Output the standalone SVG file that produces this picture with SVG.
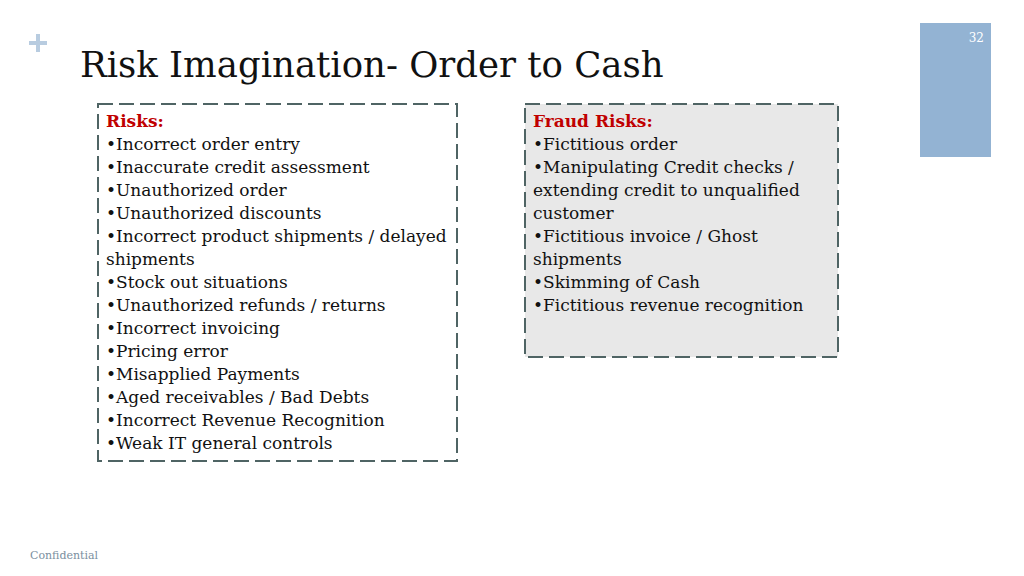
<svg xmlns="http://www.w3.org/2000/svg" width="1024" height="576" viewBox="0 0 1024 576">
<style>
text{font-family:"DejaVu Serif","Liberation Serif",serif;}
.b{font-size:17px;fill:#111}
.h{font-size:17px;font-weight:bold;fill:#c00000}
.box{stroke:#4f6464;stroke-width:2;stroke-dasharray:15 6}
</style>
<rect width="1024" height="576" fill="#fff"/>
<g id="plus"><rect x="29" y="41" width="18" height="4" fill="#b8cce0"/><rect x="36" y="34" width="4" height="18" fill="#b8cce0"/></g>
<g id="pagetab"><rect x="920" y="23" width="71" height="134" fill="#93b3d3"/><text x="984" y="42" font-size="12" fill="#fff" text-anchor="end">32</text></g>
<text id="title" x="80" y="77" font-size="35.5" fill="#111">Risk Imagination- Order to Cash</text>
<g id="risks">
<rect class="box" x="98" y="104" width="359" height="357" fill="none"/>
<text x="106" y="127" class="h">Risks:</text>
<text class="b" x="106" y="150">•Incorrect order entry</text>
<text class="b" x="106" y="173">•Inaccurate credit assessment</text>
<text class="b" x="106" y="196">•Unauthorized order</text>
<text class="b" x="106" y="219">•Unauthorized discounts</text>
<text class="b" x="106" y="242">•Incorrect product  shipments / delayed</text>
<text class="b" x="106" y="265">shipments</text>
<text class="b" x="106" y="288">•Stock out situations</text>
<text class="b" x="106" y="311">•Unauthorized refunds / returns</text>
<text class="b" x="106" y="334">•Incorrect invoicing</text>
<text class="b" x="106" y="357">•Pricing error</text>
<text class="b" x="106" y="380">•Misapplied Payments</text>
<text class="b" x="106" y="403">•Aged receivables / Bad Debts</text>
<text class="b" x="106" y="426">•Incorrect Revenue Recognition</text>
<text class="b" x="106" y="449">•Weak IT general controls</text>
</g>
<g id="fraud">
<rect class="box" x="525" y="104" width="313" height="253" fill="#e8e8e8"/>
<text x="533" y="127" class="h">Fraud Risks:</text>
<text class="b" x="533" y="150">•Fictitious order</text>
<text class="b" x="533" y="173">•Manipulating Credit checks /</text>
<text class="b" x="533" y="196">extending credit to unqualified</text>
<text class="b" x="533" y="219">customer</text>
<text class="b" x="533" y="242">•Fictitious invoice / Ghost</text>
<text class="b" x="533" y="265">shipments</text>
<text class="b" x="533" y="288">•Skimming of Cash</text>
<text class="b" x="533" y="311">•Fictitious revenue recognition</text>
</g>
<text x="30" y="559" font-size="11" fill="#7a8fa0">Confidential</text>
<g id="connectors"/>
</svg>
